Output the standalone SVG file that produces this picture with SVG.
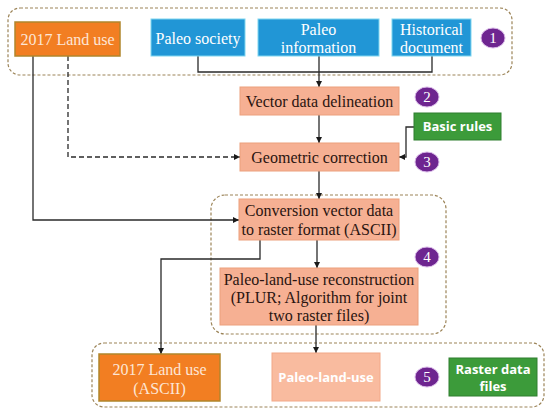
<svg xmlns="http://www.w3.org/2000/svg" width="550" height="413" viewBox="0 0 550 413">
<style>
.grp{fill:none;stroke:#9c8458;stroke-width:1.2;stroke-dasharray:3,2}
.org{fill:#f27e22;stroke:#b0862c;stroke-width:1.5}
.blu{fill:#2196d6;stroke:#7fd6f0;stroke-width:1}
.sal{fill:#f6b093;stroke:#eca07c;stroke-width:1}
.grn{fill:#3c9b3a;stroke:#2f7f2f;stroke-width:1}
.circ{fill:#6e2590;stroke:#d9b8e8;stroke-width:1}
.t{font-family:"Liberation Serif",serif;font-size:16px;text-anchor:middle}
.tw{fill:#ffffff}
.tk{fill:#2a1410}
.tb{font-family:"Open Sans","Liberation Sans",sans-serif;font-weight:bold;font-size:13px;text-anchor:middle;fill:#ffffff}
.n{font-family:"Liberation Serif",serif;font-size:15px;text-anchor:middle;fill:#ffffff}
.ln{fill:none;stroke:#2a2a2a;stroke-width:1.3}
.ds{fill:none;stroke:#2a2a2a;stroke-width:1.3;stroke-dasharray:5,3}
</style>
<defs>
<marker id="ar" viewBox="0 0 8 8" refX="8" refY="4" markerWidth="6" markerHeight="6" orient="auto" markerUnits="userSpaceOnUse">
<path d="M0,0 L8,4 L0,8 Z" fill="#1a1a1a"/>
</marker>
</defs>
<rect width="550" height="413" fill="#ffffff"/>
<g id="groups">
<rect class="grp" x="8" y="8" width="504" height="67" rx="12"/>
<rect class="grp" x="211" y="195" width="235" height="139" rx="14"/>
<rect class="grp" x="92" y="343" width="452" height="64" rx="12"/>
</g>
<g id="connectors">
<path class="ln" d="M198,56 V72 H432 V56"/>
<path class="ln" d="M319,56 V87" marker-end="url(#ar)"/>
<path class="ln" d="M319,115 V143" marker-end="url(#ar)"/>
<path class="ds" d="M68,56 V157 H240" marker-end="url(#ar)"/>
<path class="ln" d="M414,127 H406 V157 H399" marker-end="url(#ar)"/>
<path class="ln" d="M319,171 V199" marker-end="url(#ar)"/>
<path class="ln" d="M33,56 V220 H239" marker-end="url(#ar)"/>
<path class="ln" d="M317,240 V268" marker-end="url(#ar)"/>
<path class="ln" d="M260,240 V259 H161 V354" marker-end="url(#ar)"/>
<path class="ln" d="M316,325 V353" marker-end="url(#ar)"/>
</g>
<g id="n-landuse2017">
<rect class="org" x="15" y="22" width="105" height="34"/>
<text class="t" x="67.5" y="44.5" fill="#fde6d6">2017 Land use</text>
</g>
<g id="n-paleosociety">
<rect class="blu" x="151" y="19" width="94" height="37"/>
<text class="t tw" x="198" y="43.5">Paleo society</text>
</g>
<g id="n-paleoinfo">
<rect class="blu" x="258" y="19" width="121" height="37"/>
<text class="t tw" x="318.5" y="35">Paleo</text>
<text class="t tw" x="318.5" y="52.5">information</text>
</g>
<g id="n-historical">
<rect class="blu" x="392" y="19" width="79" height="37"/>
<text class="t tw" x="431.5" y="35">Historical</text>
<text class="t tw" x="431.5" y="52.5">document</text>
</g>
<g id="n-c1">
<ellipse class="circ" cx="493" cy="38" rx="12" ry="10"/>
<text class="n" x="493" y="43">1</text>
</g>
<g id="n-vector">
<rect class="sal" x="240" y="87" width="159" height="28"/>
<text class="t tk" x="319.5" y="106.5">Vector data delineation</text>
</g>
<g id="n-c2">
<ellipse class="circ" cx="427" cy="97" rx="12" ry="10"/>
<text class="n" x="427" y="102">2</text>
</g>
<g id="n-basic">
<rect class="grn" x="414" y="113" width="87" height="27"/>
<text class="tb" x="457.5" y="131">Basic rules</text>
</g>
<g id="n-geometric">
<rect class="sal" x="240" y="143" width="159" height="28"/>
<text class="t tk" x="319.5" y="162.5">Geometric correction</text>
</g>
<g id="n-c3">
<ellipse class="circ" cx="427" cy="162" rx="12" ry="10"/>
<text class="n" x="427" y="167">3</text>
</g>
<g id="n-conversion">
<rect class="sal" x="239" y="199" width="160" height="41"/>
<text class="t tk" x="319" y="216">Conversion vector data</text>
<text class="t tk" x="319" y="234.5">to raster format (ASCII)</text>
</g>
<g id="n-c4">
<ellipse class="circ" cx="427" cy="257" rx="12" ry="10"/>
<text class="n" x="427" y="262">4</text>
</g>
<g id="n-plur">
<rect class="sal" x="220" y="268" width="198" height="57"/>
<text class="t tk" x="319" y="285">Paleo-land-use reconstruction</text>
<text class="t tk" x="319" y="303">(PLUR; Algorithm for joint</text>
<text class="t tk" x="319" y="321">two raster files)</text>
</g>
<g id="n-landuseascii">
<rect class="org" x="99" y="354" width="121" height="47"/>
<text class="t" x="159.5" y="375" fill="#fde6d6">2017 Land use</text>
<text class="t" x="159.5" y="394" fill="#fde6d6">(ASCII)</text>
</g>
<g id="n-paleolanduse">
<rect x="272" y="353" width="108" height="48" fill="#f9bb9f" stroke="#f2a888" stroke-width="1"/>
<text class="tb" x="326" y="382">Paleo-land-use</text>
</g>
<g id="n-c5">
<ellipse class="circ" cx="427" cy="377" rx="12" ry="10"/>
<text class="n" x="427" y="382">5</text>
</g>
<g id="n-raster">
<rect class="grn" x="449" y="358" width="88" height="38"/>
<text class="tb" x="493" y="374">Raster data</text>
<text class="tb" x="493" y="391">files</text>
</g>
</svg>
